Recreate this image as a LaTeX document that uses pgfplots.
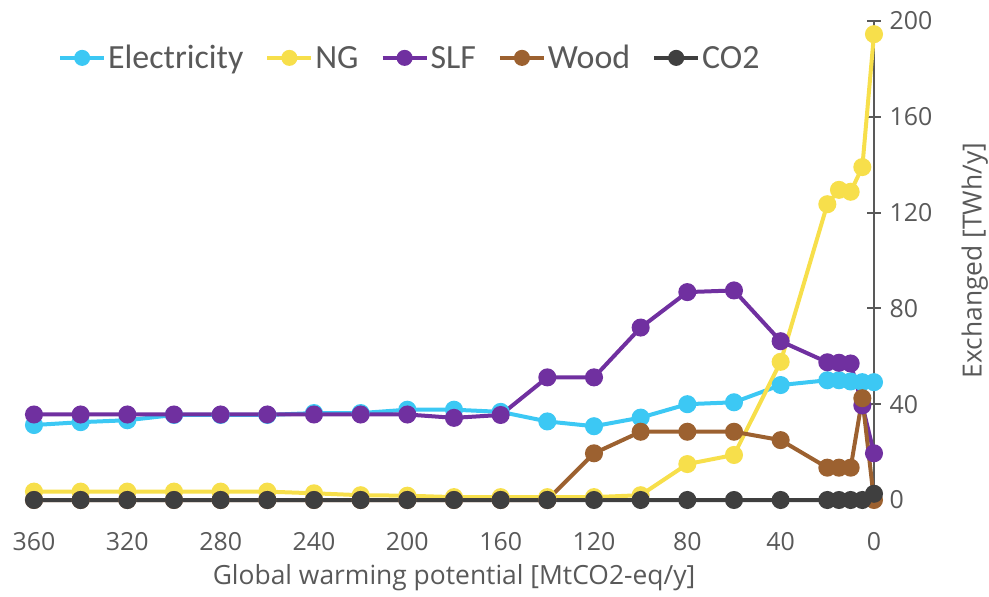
\documentclass[border=0pt]{standalone}
\usepackage{pgfplots}
\pgfplotsset{compat=1.18}
\usepackage{fontspec}
\setmainfont{Open Sans}
\newfontfamily\legfont{Carlito}
\definecolor{elec}{HTML}{3CC8F4}
\definecolor{ng}{HTML}{F7DF4B}
\definecolor{slf}{HTML}{7030A0}
\definecolor{wood}{HTML}{9C6130}
\definecolor{cotwo}{HTML}{3F3F3F}
\definecolor{txt}{HTML}{595959}
\begin{document}
\begin{tikzpicture}
\useasboundingbox (-34bp,-97bp) rectangle (955bp,500bp);
\begin{axis}[
  at={(0,0)}, anchor=south west,
  scale only axis, width=840bp, height=479bp,
  x dir=reverse,
  xmin=0, xmax=360, ymin=0, ymax=200,
  clip=false,
  axis x line*=bottom, axis y line*=right,
  axis line style={-, draw=txt, line width=2bp},
  xtick={0,40,...,360}, ytick={0,40,...,200},
  tick align=center, major tick length=14bp,
  tick style={draw=txt, line width=2bp},
  /pgf/number format/assume math mode=true,
  tick label style={font=\fontsize{25}{29}\selectfont, text=txt},
  xticklabel style={yshift=-22bp},
  yticklabel style={xshift=5bp},
  xlabel={Global warming potential [MtCO2-eq/y]},
  ylabel={Exchanged [TWh/y]},
  label style={font=\fontsize{26.5}{31}\selectfont, text=txt},
  xlabel style={at={(axis description cs:0.5,-0.163)}, anchor=center},
  ylabel style={at={(axis description cs:1.12,0.5)}, anchor=center},
  every axis plot/.append style={line width=4bp, mark=*, mark size=7bp},
  legend style={at={(axis description cs:0.025,0.923)}, anchor=west, draw=none, fill=none,
    font=\legfont\fontsize{34}{38}\selectfont, text=txt,
    /tikz/every even column/.append style={column sep=20bp},
    nodes={inner sep=2bp}},
  legend columns=-1,
  legend image code/.code={\draw[line width=4bp, mark size=6bp, mark repeat=2, mark phase=2] plot coordinates {(0bp,0bp) (22bp,0bp) (44bp,0bp)};},
]
\addplot[color=elec, mark options={fill=elec, draw=elec}] coordinates {
(360,31.3) (340,32.5) (320,33.3) (300,35.5) (280,35.5) (260,35.5) (240,36.3) (220,36.3) (200,37.7) (180,37.7) (160,36.8) (140,32.8) (120,30.8) (100,34.4) (80,40) (60,40.8) (40,48) (20,50) (15,50) (10,49.5) (5,49.2) (0,49.2)};
\addlegendentry{Electricity}
\addplot[color=ng, mark options={fill=ng, draw=ng}] coordinates {
(360,3.5) (340,3.5) (320,3.5) (300,3.5) (280,3.5) (260,3.5) (240,2.8) (220,2) (200,1.8) (180,1.2) (160,1.2) (140,1.2) (120,1.2) (100,2) (80,15) (60,18.8) (40,57.7) (20,123.5) (15,129.5) (10,128.7) (5,139) (0,194.5)};
\addlegendentry{NG}
\addplot[color=slf, mark options={fill=slf, draw=slf}] coordinates {
(360,35.7) (340,35.7) (320,35.7) (300,35.7) (280,35.7) (260,35.7) (240,35.7) (220,35.7) (200,35.7) (180,34.3) (160,35.5) (140,51.2) (120,51.2) (100,72) (80,86.8) (60,87.5) (40,66.3) (20,57.5) (15,57.3) (10,57) (5,39.5) (0,19.5)};
\addlegendentry{SLF}
\addplot[color=wood, mark options={fill=wood, draw=wood}] coordinates {
(360,0) (340,0) (320,0) (300,0) (280,0) (260,0) (240,0) (220,0) (200,0) (180,0) (160,0) (140,0) (120,19.5) (100,28.5) (80,28.5) (60,28.5) (40,25) (20,13.5) (15,13.5) (10,13.5) (5,42.5) (0,0)};
\addlegendentry{Wood}
\addplot[color=cotwo, mark options={fill=cotwo, draw=cotwo}] coordinates {
(360,0) (340,0) (320,0) (300,0) (280,0) (260,0) (240,0) (220,0) (200,0) (180,0) (160,0) (140,0) (120,0) (100,0) (80,0) (60,0) (40,0) (20,0) (15,0) (10,0) (5,0) (0,2.6)};
\addlegendentry{CO2}
\end{axis}
\end{tikzpicture}
\end{document}
